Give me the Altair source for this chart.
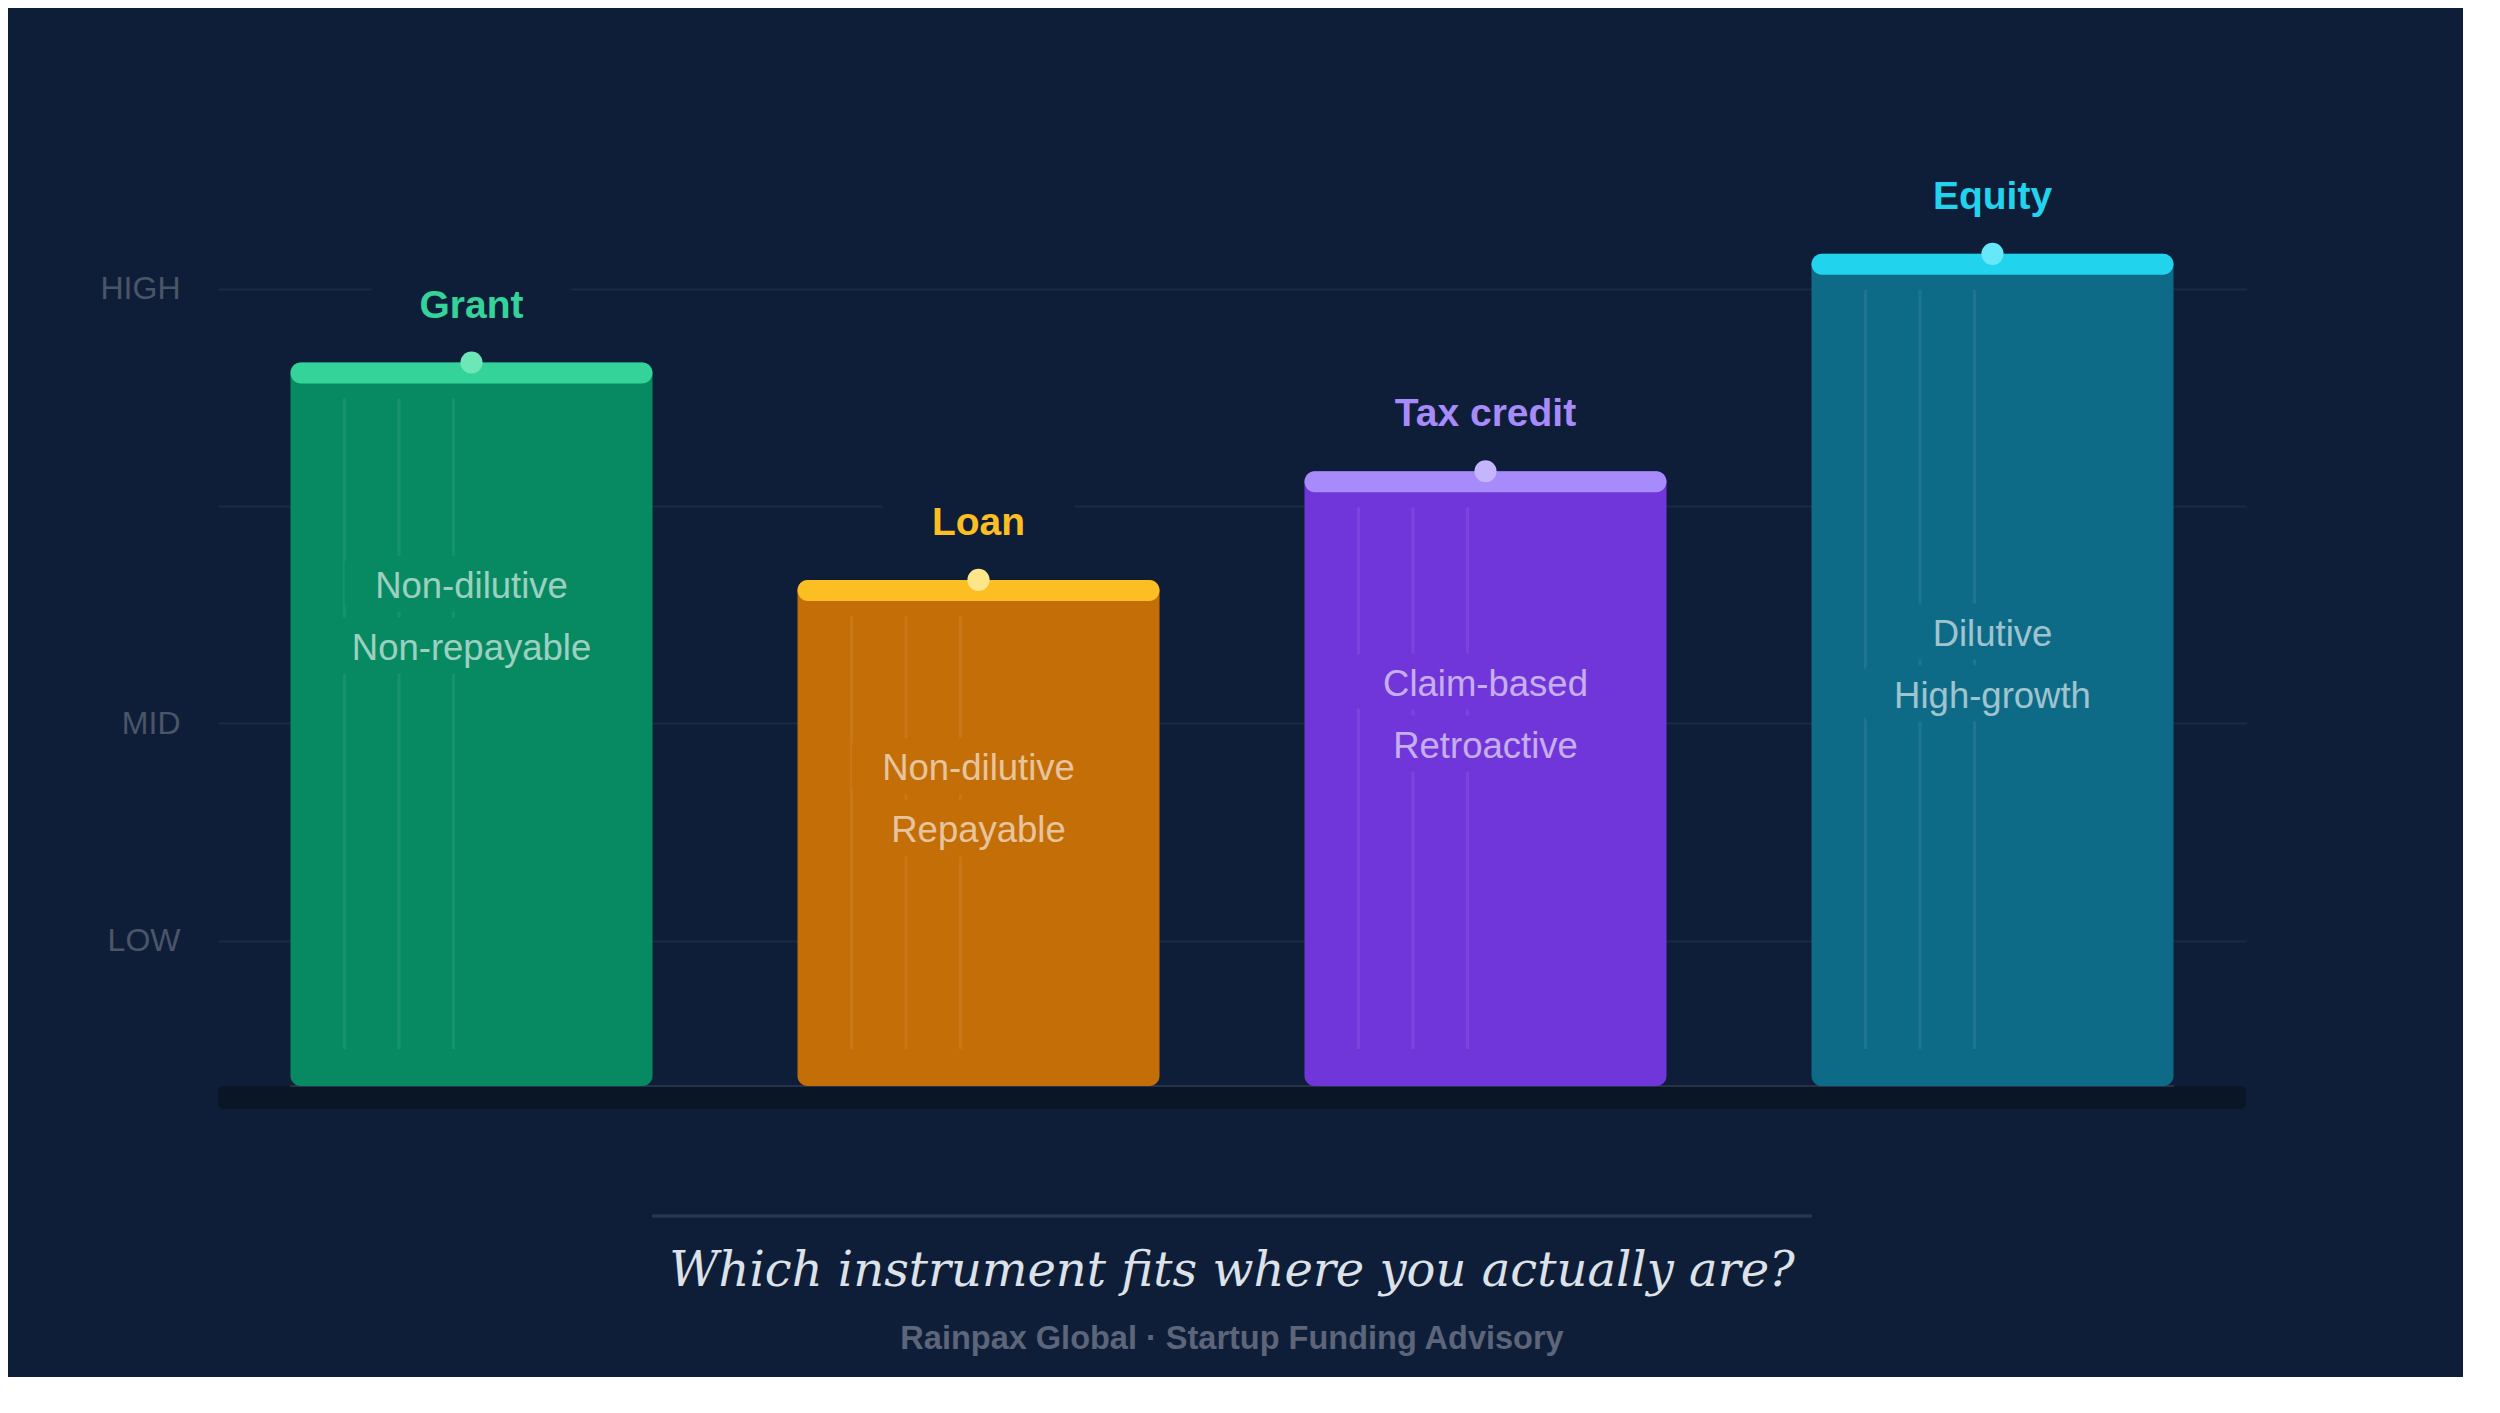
import altair as alt
import pandas as pd

# ---------------- data ----------------
names = ["Grant", "Loan", "Tax credit", "Equity"]
values = [3.66, 2.66, 3.16, 4.16]          # bar tops on the LOW(1)..HIGH(4) scale
desc_level = [2.50, 1.66, 2.05, 2.28]      # where the two description lines sit
line1 = ["Non-dilutive", "Non-dilutive", "Claim-based", "Dilutive"]
line2 = ["Non-repayable", "Repayable", "Retroactive", "High-growth"]
cap_colors = ["#34d399", "#fbbf24", "#a78bfa", "#22d3ee"]
body_colors = ["#078a62", "#c46e08", "#7136d9", "#0e6b87"]
dot_colors = ["#6ee7b7", "#fde68a", "#c4b5fd", "#67e8f9"]
level_values = [1, 2, 3, 4]
level_labels = ["LOW", "MID", "", "HIGH"]
BASE = 0.332
FLOOR = 0.226
TOP = 4.9

title_text = "Which instrument fits where you actually are?"
subtitle_text = "Rainpax Global \u00b7 Startup Funding Advisory"

BG = "#0f1e38"
PLOT_W = 2028
PLOT_H = 1016
PAD_IN = 0.286
PAD_OUT = 0.143
STEP = PLOT_W / 4
BAND = STEP * (1 - PAD_IN)
FIRST_LEFT = PAD_OUT * STEP


def text_w(s, size, bold=False):
    w = 0.0
    for ch in s:
        if ch in "ijlI.,:;'|!":
            w += 0.25
        elif ch in "frt-() ":
            w += 0.33
        elif ch in "mwMW":
            w += 0.85
        elif ch.isupper():
            w += 0.70
        else:
            w += 0.56
    return w * size * (1.06 if bold else 1.0)


df = pd.DataFrame({
    "name": names,
    "value": values,
    "base": [BASE] * len(names),
    "floor": [FLOOR] * len(names),
    "desc": desc_level,
    "line1": line1,
    "line2": line2,
    "cap": cap_colors,
    "body": body_colors,
    "dot": dot_colors,
})
df["tbox"] = [text_w(n, 39, True) * 1.95 for n in names]
df["w1"] = [text_w(s, 36.5) + 54 for s in line1]
df["w2"] = [text_w(s, 36.5) + 54 for s in line2]

label_map = "{" + ",".join(f"'{v}':'{l}'" for v, l in zip(level_values, level_labels)) + "}"

y_scale = alt.Scale(domain=[FLOOR, TOP], nice=False, zero=False)
y_axis = alt.Axis(
    values=level_values,
    labelExpr=f"{label_map}[datum.value]",
    grid=True, gridColor="#1b2a43", gridWidth=2,
    domain=False, ticks=False, labelPadding=38,
    labelFontSize=32, labelFont="Liberation Sans", labelColor="#4a5568",
    title=None, minExtent=210, maxExtent=210,
)


def Y(field):
    return alt.Y(field, type="quantitative", scale=y_scale, axis=y_axis)


x_enc = alt.X("name:N", sort=names,
              scale=alt.Scale(paddingInner=PAD_IN, paddingOuter=PAD_OUT),
              axis=None)

base = alt.Chart(df).encode(x=x_enc)

floor_rect = base.mark_rect(cornerRadius=7, fill="#0a1526").encode(
    x=alt.value(0), x2=alt.value("width"),
    y=Y("base"), y2=alt.Y2("floor:Q"))

thin_line = base.mark_rule(stroke="#26324a", strokeWidth=2).encode(
    x=alt.value(FIRST_LEFT), x2=alt.value(PLOT_W - FIRST_LEFT), y=Y("base"))

title_box = base.mark_bar(fill=BG, yOffset=-90, y2Offset=-28).encode(
    y=Y("value"), y2=alt.Y2("value:Q"), size=alt.Size("tbox:Q", scale=None))

body = base.mark_bar(cornerRadius=10).encode(
    y=Y("value"), y2=alt.Y2("base:Q"), fill=alt.Fill("body:N", scale=None))

stripes = [
    base.mark_rule(xOffset=o, yOffset=36, y2Offset=-37, stroke="white",
                   strokeOpacity=0.07, strokeWidth=3).encode(
        y=Y("value"), y2=alt.Y2("base:Q"))
    for o in (-127, -72.5, -18)
]

desc_boxes = [
    base.mark_bar(cornerRadius=8, yOffset=off - 28, y2Offset=off + 28).encode(
        y=Y("desc"), y2=alt.Y2("desc:Q"),
        size=alt.Size(f"{w}:Q", scale=None),
        fill=alt.Fill("body:N", scale=None))
    for w, off in (("w1", -31), ("w2", 31))
]

desc_texts = [
    base.mark_text(fontSize=36.5, font="Liberation Sans", dy=off + 3, baseline="middle",
                   fill="white", opacity=0.6).encode(
        y=Y("desc"), text=alt.Text(f"{f}:N"))
    for f, off in (("line1", -31), ("line2", 31))
]

cap = base.mark_bar(cornerRadius=10.5, y2Offset=21).encode(
    y=Y("value"), y2=alt.Y2("value:Q"), fill=alt.Fill("cap:N", scale=None))

dot = base.mark_circle(size=490, opacity=1).encode(
    y=Y("value"), fill=alt.Fill("dot:N", scale=None))

titles = base.mark_text(fontSize=39, fontWeight="bold", font="Liberation Sans",
                        dy=-45, baseline="alphabetic").encode(
    y=Y("value"), text=alt.Text("name:N"), fill=alt.Fill("cap:N", scale=None))

separator = base.mark_rule(stroke="#2a3650", strokeWidth=2.5, yOffset=107).encode(
    x=alt.value(FIRST_LEFT + BAND), x2=alt.value(PLOT_W - FIRST_LEFT - BAND),
    y=alt.value("height"))

chart = alt.layer(
    floor_rect, thin_line, title_box, body, *stripes, *desc_boxes, *desc_texts,
    cap, dot, titles, separator,
).properties(
    width=PLOT_W, height=PLOT_H,
    padding={"left": 0, "top": 85, "right": 217, "bottom": 21},
    background=BG,
    title=alt.TitleParams(
        text=title_text, subtitle=subtitle_text,
        orient="bottom", anchor="middle", frame="group",
        font="DejaVu Serif", fontStyle="italic", fontWeight="normal",
        fontSize=48, color="#dde1e8", offset=31,
        subtitleFont="Liberation Sans", subtitleFontSize=32.5,
        subtitleFontWeight="bold", subtitleColor="#5c6579",
        subtitlePadding=27,
    ),
).configure_view(stroke=None)

chart.save("out.html", embed_options={"renderer": "svg", "actions": False})
